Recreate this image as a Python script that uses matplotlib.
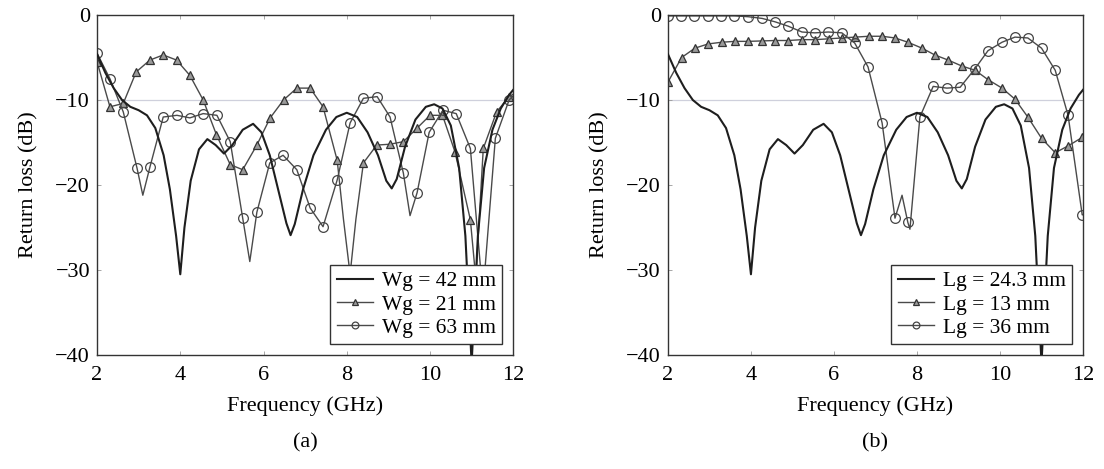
import numpy as np
import matplotlib
matplotlib.use("Agg")
import matplotlib.pyplot as plt

plt.rcParams["font.family"] = ["Liberation Serif", "DejaVu Serif"]

# reference curve (Wg = 42 mm / Lg = 24.3 mm), same in both panels
f_ref = [2.0, 2.2, 2.4, 2.6, 2.8, 3.0, 3.2, 3.4, 3.6, 3.75, 3.9, 4.0, 4.1, 4.25,
         4.45, 4.65, 4.85, 5.05, 5.25, 5.5, 5.75, 5.95, 6.15, 6.35, 6.55, 6.65,
         6.75, 6.95, 7.2, 7.5, 7.75, 8.0, 8.25, 8.5, 8.75, 8.95, 9.08, 9.2, 9.4,
         9.65, 9.9, 10.1, 10.3, 10.5, 10.7, 10.85, 10.95, 11.0, 11.05, 11.15,
         11.3, 11.5, 11.7, 11.9, 12.0]
rl_ref = [-4.6, -6.8, -8.6, -10.0, -10.8, -11.2, -11.8, -13.3, -16.5, -20.5, -26.0,
          -30.5, -25.0, -19.5, -15.8, -14.6, -15.3, -16.3, -15.3, -13.5, -12.8,
          -13.8, -16.5, -20.5, -24.5, -25.9, -24.6, -20.5, -16.5, -13.5, -12.0,
          -11.5, -12.0, -13.8, -16.5, -19.5, -20.4, -19.3, -15.5, -12.3, -10.8,
          -10.5, -11.0, -13.0, -18.0, -26.0, -36.0, -41.0, -36.0, -26.0, -18.0,
          -13.5, -11.0, -9.4, -8.8]

# (a) Wg = 21 mm
f_w21 = [2.0, 2.31, 2.63, 2.94, 3.27, 3.59, 3.91, 4.23, 4.55, 4.87, 5.2, 5.5, 5.84,
         6.16, 6.48, 6.8, 7.12, 7.43, 7.77, 7.92, 8.08, 8.22, 8.4, 8.72, 9.04, 9.36,
         9.69, 10.0, 10.3, 10.6, 10.97, 11.1, 11.28, 11.6, 11.9, 12.0]
rl_w21 = [-5.5, -10.8, -10.4, -6.7, -5.3, -4.7, -5.3, -7.1, -10.0, -14.1, -17.6,
          -18.2, -15.3, -12.1, -10.0, -8.6, -8.6, -10.8, -17.1, -24.0, -30.5, -24.0,
          -17.4, -15.3, -15.2, -14.9, -13.3, -11.8, -11.8, -16.1, -24.1, -31.0,
          -15.7, -11.4, -9.6, -9.3]
mk_w21 = [2.0, 2.31, 2.63, 2.94, 3.27, 3.59, 3.91, 4.23, 4.55, 4.87, 5.2, 5.5, 5.84,
          6.16, 6.48, 6.8, 7.12, 7.43, 7.77, 8.08, 8.4, 8.72, 9.04, 9.36, 9.69,
          10.0, 10.3, 10.6, 10.97, 11.28, 11.6, 11.9]

# (a) Wg = 63 mm
f_w63 = [2.0, 2.31, 2.63, 2.96, 3.1, 3.27, 3.59, 3.92, 4.23, 4.55, 4.88, 5.2, 5.5,
         5.67, 5.84, 6.15, 6.47, 6.8, 7.12, 7.43, 7.77, 8.08, 8.4, 8.73, 9.04, 9.36,
         9.52, 9.69, 9.98, 10.31, 10.63, 10.97, 11.27, 11.57, 11.9, 12.0]
rl_w63 = [-4.5, -7.5, -11.4, -18.0, -21.2, -17.9, -12.0, -11.8, -12.1, -11.6, -11.8,
          -14.9, -23.9, -29.0, -23.2, -17.4, -16.5, -18.2, -22.7, -24.9, -19.4,
          -12.7, -9.8, -9.6, -12.0, -18.6, -23.6, -20.9, -13.8, -11.2, -11.6,
          -15.7, -33.0, -14.5, -10.0, -9.5]
mk_w63 = [2.0, 2.31, 2.63, 2.96, 3.27, 3.59, 3.92, 4.23, 4.55, 4.88, 5.2, 5.5, 5.84,
          6.15, 6.47, 6.8, 7.12, 7.43, 7.77, 8.08, 8.4, 8.73, 9.04, 9.36, 9.69,
          9.98, 10.31, 10.63, 10.97, 11.27, 11.57, 11.9]

# (b) Lg = 13 mm
f_l13 = [2.0, 2.33, 2.65, 2.97, 3.3, 3.62, 3.94, 4.26, 4.58, 4.9, 5.23, 5.55, 5.87,
         6.19, 6.51, 6.84, 7.16, 7.47, 7.78, 8.12, 8.43, 8.75, 9.08, 9.4, 9.71,
         10.05, 10.36, 10.67, 11.0, 11.33, 11.64, 11.98, 12.0]
rl_l13 = [-7.9, -5.0, -3.9, -3.4, -3.2, -3.1, -3.1, -3.05, -3.0, -3.0, -2.9, -2.9,
          -2.8, -2.7, -2.6, -2.5, -2.5, -2.7, -3.2, -3.9, -4.7, -5.3, -6.0, -6.5,
          -7.6, -8.6, -9.9, -12.0, -14.5, -16.2, -15.4, -14.4, -14.3]
mk_l13 = f_l13[:-1]

# (b) Lg = 36 mm
f_l36 = [2.0, 2.32, 2.64, 2.96, 3.28, 3.6, 3.93, 4.27, 4.58, 4.89, 5.23, 5.54, 5.86,
         6.19, 6.5, 6.82, 7.16, 7.47, 7.64, 7.78, 7.83, 8.07, 8.39, 8.72, 9.04,
         9.4, 9.71, 10.05, 10.36, 10.67, 11.0, 11.33, 11.64, 11.98, 12.0]
rl_l36 = [-0.1, -0.1, -0.1, -0.1, -0.1, -0.1, -0.2, -0.4, -0.8, -1.3, -2.0, -2.1,
          -2.0, -2.1, -3.3, -6.1, -12.7, -23.9, -21.2, -24.4, -25.2, -12.0, -8.4,
          -8.6, -8.5, -6.3, -4.2, -3.2, -2.6, -2.7, -3.9, -6.5, -11.8, -23.5, -23.5]
mk_l36 = [2.0, 2.32, 2.64, 2.96, 3.28, 3.6, 3.93, 4.27, 4.58, 4.89, 5.23, 5.54,
          5.86, 6.19, 6.5, 6.82, 7.16, 7.47, 7.78, 8.07, 8.39, 8.72, 9.04, 9.4,
          9.71, 10.05, 10.36, 10.67, 11.0, 11.33, 11.64, 11.98]

x_ticks = [2, 4, 6, 8, 10, 12]
y_ticks = [0, -10, -20, -30, -40]

FS = 16
BLACK = "#1e1e1e"
GRAY = "#4a4a4a"


def marks(f, mk):
    return [i for i, v in enumerate(f) if np.isclose(v, mk).any()]


fig = plt.figure(figsize=(11.04, 4.69), dpi=100)
ax1 = fig.add_axes([0.0879, 0.243, 0.377, 0.725])
ax2 = fig.add_axes([0.605, 0.243, 0.376, 0.725])

panels = [
    (ax1, "Wg = 42 mm", (f_w21, rl_w21, mk_w21, "Wg = 21 mm"),
     (f_w63, rl_w63, mk_w63, "Wg = 63 mm"), "(a)"),
    (ax2, "Lg = 24.3 mm", (f_l13, rl_l13, mk_l13, "Lg = 13 mm"),
     (f_l36, rl_l36, mk_l36, "Lg = 36 mm"), "(b)"),
]

for ax, ref_lab, tri, circ, tag in panels:
    ax.axhline(-10, color="#cfd0dc", lw=0.9, zorder=0)
    ax.plot(f_ref, rl_ref, color=BLACK, lw=1.5, label=ref_lab, zorder=3)
    ax.plot(tri[0], tri[1], color=GRAY, lw=1.0, marker="^", ms=6,
            mfc="#9a9a9a", mec="#333333", mew=0.9,
            markevery=marks(tri[0], tri[2]), label=tri[3], zorder=2)
    ax.plot(circ[0], circ[1], color=GRAY, lw=1.0, marker="o", ms=7,
            mfc="none", mec="#444444", mew=0.9,
            markevery=marks(circ[0], circ[2]), label=circ[3], zorder=2)
    ax.set_xlim(2, 12)
    ax.set_ylim(-40, 0)
    ax.set_xticks(x_ticks)
    ax.set_yticks(y_ticks)
    ax.tick_params(direction="in", top=True, right=True, length=3, width=0.6,
                   color="#999999", labelsize=FS)
    ax.tick_params(axis="x", pad=8)
    ax.tick_params(axis="y", pad=5)
    for s in ax.spines.values():
        s.set_color("#333333")
        s.set_linewidth(1.0)
    ax.set_xlabel("Frequency (GHz)", fontsize=FS, labelpad=8)
    ax.set_ylabel("Return loss (dB)", fontsize=FS, labelpad=12)
    leg = ax.legend(loc="lower right", fontsize=15.5, frameon=True, fancybox=False,
                    framealpha=1, edgecolor="#333333", handlelength=1.7,
                    handletextpad=0.4, labelspacing=0.15, borderpad=0.3,
                    borderaxespad=0.5, markerscale=0.7, numpoints=1)
    leg.get_frame().set_linewidth(1.0)
    leg.set_zorder(10)
    pos = ax.get_position()
    fig.text(pos.x0 + pos.width / 2, 0.055, tag, ha="center", va="center", fontsize=FS)

fig.savefig("out.png", dpi=100, facecolor="white")
